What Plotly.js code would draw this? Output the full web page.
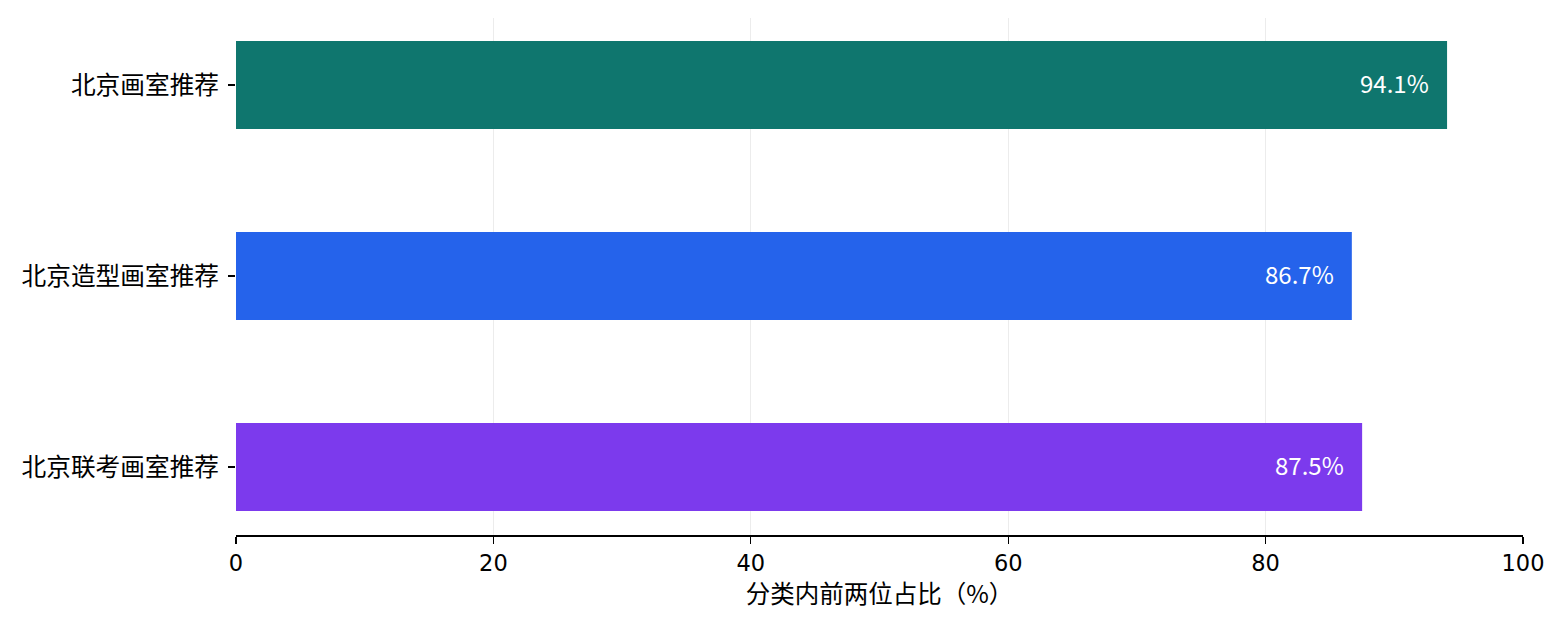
<!DOCTYPE html>
<html>
<head>
<meta charset="utf-8">
<script src="https://cdn.plot.ly/plotly-3.0.1.min.js"></script>
<style>
  html, body { margin: 0; padding: 0; background: #fff; }
  #chart { width: 1565px; height: 630px; }
</style>
</head>
<body>
<div id="chart"></div>
<script>
var categories = ['北京画室推荐', '北京造型画室推荐', '北京联考画室推荐'];
var shares = [94.1, 86.7, 87.5];
var barColors = ['#0F766E', '#2563EB', '#7C3AED'];

var font = '"Noto Sans CJK SC", "Noto Sans", sans-serif';
var digitFont = '"DejaVu Sans", sans-serif';

var bars = {
  type: 'bar',
  orientation: 'h',
  y: categories,
  x: shares,
  width: 0.46,
  marker: { color: barColors, line: { width: 0 } },
  hoverinfo: 'x+y'
};

// value labels sit inside the bar end, a bit left of it
var labels = shares.map(function (v, i) {
  return {
    x: v, y: categories[i],
    xref: 'x', yref: 'y',
    text: v.toFixed(1) + '%',
    showarrow: false,
    xanchor: 'right',
    xshift: -16,
    yshift: 3,
    font: { family: font, size: 24, color: '#ffffff' }
  };
});

var layout = {
  width: 1565,
  height: 630,
  margin: { l: 236, r: 42, t: 18, b: 95 },
  paper_bgcolor: '#ffffff',
  plot_bgcolor: '#ffffff',
  showlegend: false,
  font: { family: font, size: 24, color: '#000000' },
  xaxis: {
    range: [0, 100],
    tickvals: [0, 20, 40, 60, 80, 100],
    showgrid: true,
    gridcolor: 'rgba(200,200,200,0.35)',
    gridwidth: 1,
    zeroline: false,
    showline: true,
    linecolor: '#000000',
    linewidth: 1.5,
    ticks: 'outside',
    ticklen: 7,
    tickwidth: 1.2,
    tickcolor: '#000000',
    layer: 'above traces',
    tickfont: { family: digitFont, size: 22.5 },
    title: { text: '分类内前两位占比（%）', font: { family: font, size: 24.5 }, standoff: 7 }
  },
  yaxis: {
    type: 'category',
    range: [2.356, -0.351],
    showgrid: false,
    zeroline: false,
    showline: false,
    ticks: 'outside',
    ticklen: 7,
    tickwidth: 1.2,
    tickcolor: '#000000',
    ticklabelstandoff: 4,
    tickfont: { family: font, size: 24.7 }
  },
  annotations: labels
};

Plotly.newPlot('chart', [bars], layout, { displayModeBar: false, staticPlot: true });
</script>
</body>
</html>
